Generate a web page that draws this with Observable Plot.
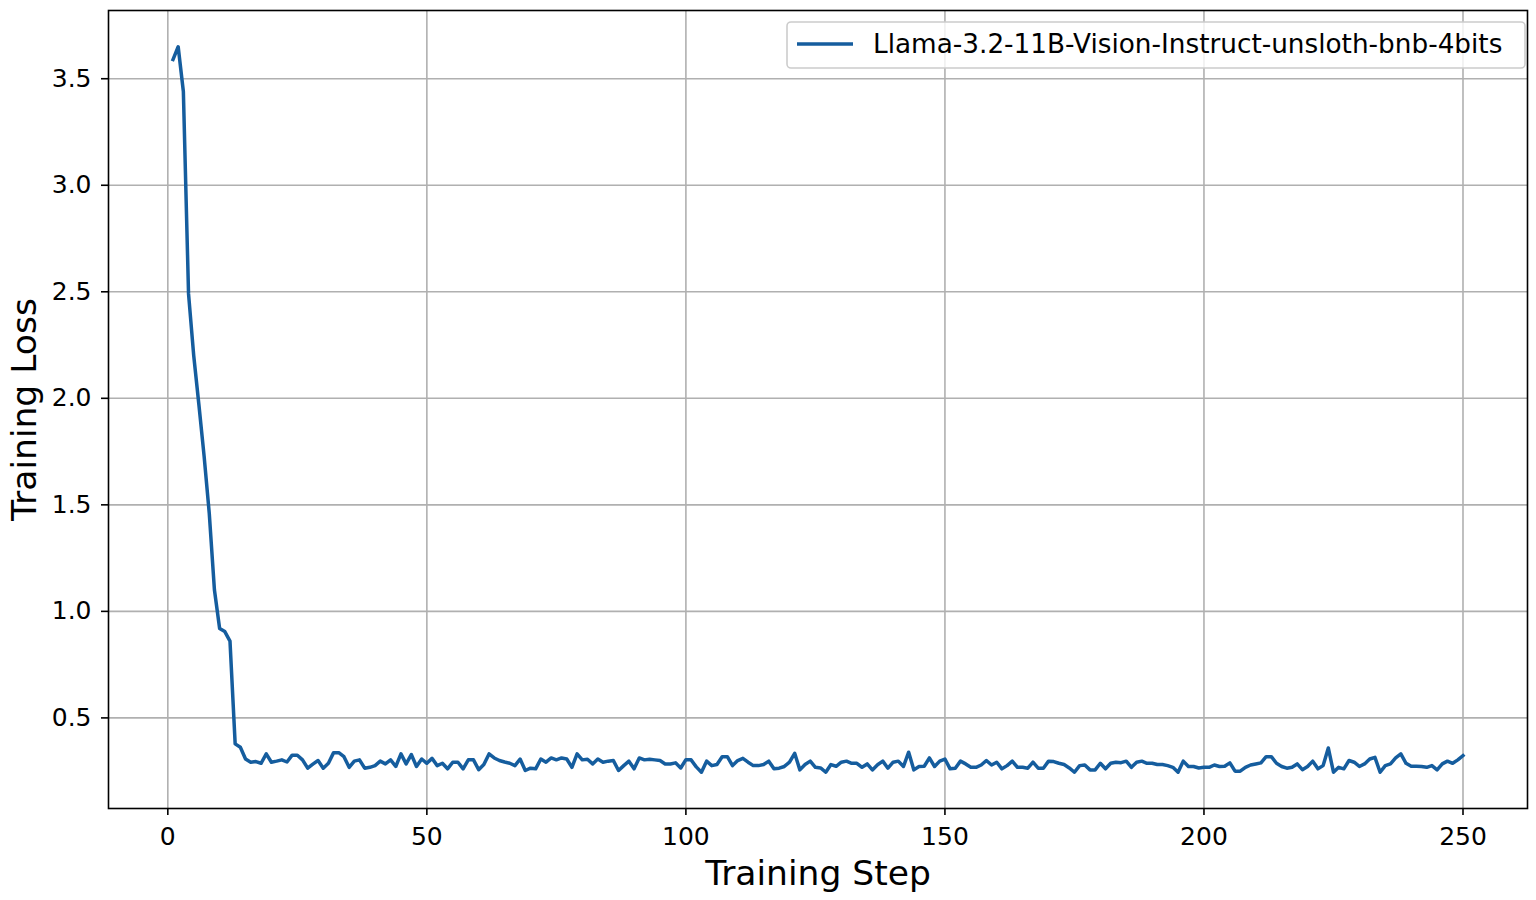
<!DOCTYPE html>
<html>
<head>
<meta charset="utf-8">
<script src="https://cdn.jsdelivr.net/npm/d3@7"></script>
<script src="https://cdn.jsdelivr.net/npm/@observablehq/plot@0.6"></script>
<style>
  html, body { margin: 0; padding: 0; background: #ffffff; }
  svg { display: block; }
</style>
</head>
<body>
<script>
// ---- data ----
const seriesName = "Llama-3.2-11B-Vision-Instruct-unsloth-bnb-4bits";
const xLabel = "Training Step";
const yLabel = "Training Loss";
const xTicks = [0, 50, 100, 150, 200, 250];
const yTicks = [0.5, 1.0, 1.5, 2.0, 2.5, 3.0, 3.5];
const loss = [
  3.59, 3.65, 3.44, 2.49, 2.2, 1.97, 1.73, 1.46, 1.1, 0.92,
  0.905, 0.86, 0.378, 0.362, 0.307, 0.292, 0.295, 0.287, 0.331, 0.292,
  0.297, 0.303, 0.293, 0.325, 0.325, 0.303, 0.264, 0.283, 0.300, 0.264,
  0.287, 0.337, 0.337, 0.318, 0.268, 0.297, 0.303, 0.264, 0.268, 0.276,
  0.297, 0.284, 0.303, 0.272, 0.331, 0.284, 0.328, 0.272, 0.307, 0.287,
  0.310, 0.276, 0.287, 0.261, 0.292, 0.292, 0.261, 0.303, 0.303, 0.257,
  0.281, 0.331, 0.312, 0.300, 0.293, 0.287, 0.276, 0.307, 0.253, 0.264,
  0.261, 0.307, 0.292, 0.312, 0.303, 0.312, 0.307, 0.268, 0.331, 0.303,
  0.306, 0.284, 0.307, 0.292, 0.297, 0.300, 0.253, 0.276, 0.297, 0.261,
  0.312, 0.303, 0.306, 0.303, 0.300, 0.284, 0.284, 0.289, 0.265, 0.304,
  0.303, 0.270, 0.245, 0.297, 0.276, 0.281, 0.318, 0.318, 0.276, 0.300,
  0.310, 0.292, 0.276, 0.276, 0.281, 0.297, 0.261, 0.264, 0.272, 0.292,
  0.334, 0.256, 0.281, 0.297, 0.268, 0.265, 0.245, 0.281, 0.273, 0.292,
  0.297, 0.287, 0.287, 0.268, 0.284, 0.256, 0.280, 0.297, 0.264, 0.292,
  0.297, 0.272, 0.339, 0.256, 0.272, 0.273, 0.312, 0.272, 0.297, 0.307,
  0.261, 0.264, 0.297, 0.284, 0.268, 0.268, 0.279, 0.300, 0.279, 0.292,
  0.261, 0.276, 0.297, 0.268, 0.268, 0.264, 0.292, 0.264, 0.264, 0.297,
  0.295, 0.287, 0.281, 0.265, 0.245, 0.276, 0.279, 0.256, 0.256, 0.287,
  0.261, 0.287, 0.292, 0.290, 0.297, 0.268, 0.292, 0.297, 0.287, 0.287,
  0.281, 0.281, 0.276, 0.268, 0.245, 0.297, 0.272, 0.272, 0.265, 0.268,
  0.268, 0.279, 0.272, 0.273, 0.289, 0.250, 0.250, 0.268, 0.279, 0.284,
  0.289, 0.318, 0.318, 0.287, 0.272, 0.264, 0.268, 0.284, 0.257, 0.272,
  0.297, 0.261, 0.276, 0.359, 0.245, 0.268, 0.261, 0.300, 0.292, 0.272,
  0.284, 0.307, 0.315, 0.245, 0.276, 0.284, 0.312, 0.331, 0.287, 0.273,
  0.273, 0.272, 0.268, 0.276, 0.256, 0.284, 0.297, 0.287, 0.303, 0.323
];
const steps = loss.map((_, i) => i + 1);

// ---- build table ----
const data = steps.map((s, i) => ({step: s, loss: loss[i]}));

// matplotlib-like 5% margins
function padded(ext, f = 0.05) {
  const d = (ext[1] - ext[0]) * f;
  return [ext[0] - d, ext[1] + d];
}
const xDomain = padded(d3.extent(steps));
const yDomain = padded(d3.extent(loss));

const lineColor = "#155d9e";
const gridColor = "#b0b0b0";
const FONT = "DejaVu Sans, Verdana, sans-serif";

const chart = Plot.plot({
  width: 1536,
  height: 900,
  marginLeft: 108,
  marginRight: 9,
  marginTop: 10,
  marginBottom: 92,
  style: {fontFamily: FONT, background: "#ffffff", color: "#000000", overflow: "visible"},
  x: {domain: xDomain},
  y: {domain: yDomain},
  marks: [
    Plot.gridX(xTicks, {stroke: gridColor, strokeOpacity: 1, strokeWidth: 1.6}),
    Plot.gridY(yTicks, {stroke: gridColor, strokeOpacity: 1, strokeWidth: 1.6}),
    Plot.line(data, {x: "step", y: "loss", stroke: lineColor, strokeWidth: 3.5, strokeLinejoin: "round", strokeLinecap: "square"}),
    Plot.frame({stroke: "#000000", strokeWidth: 1.6}),
    Plot.axisX(xTicks, {tickSize: 7, tickPadding: 12, fontSize: 25, strokeWidth: 1.6, label: null, tickFormat: d3.format("d")}),
    Plot.axisY(yTicks, {tickSize: 7, tickPadding: 10, fontSize: 25, strokeWidth: 1.6, label: null, tickFormat: d3.format(".1f")}),
    Plot.text([xLabel], {frameAnchor: "bottom", dy: 65, lineAnchor: "middle", textAnchor: "middle", fontSize: 34.5, fill: "#000000"}),
    Plot.text([yLabel], {frameAnchor: "left", dx: -84, rotate: -90, lineAnchor: "middle", textAnchor: "middle", fontSize: 34.5, fill: "#000000"})
  ]
});

document.body.appendChild(chart);

// ---- legend (upper right, matplotlib style) ----
const svg = d3.select(chart);
const lg = svg.append("g").attr("font-family", FONT).attr("text-anchor", "start");
const boxX = 787, boxY = 22, boxW = 738, boxH = 46;
lg.append("rect")
  .attr("x", boxX).attr("y", boxY).attr("width", boxW).attr("height", boxH)
  .attr("rx", 4).attr("ry", 4)
  .attr("fill", "#ffffff").attr("fill-opacity", 0.8)
  .attr("stroke", "#cccccc").attr("stroke-width", 1.6);
lg.append("line")
  .attr("x1", boxX + 10).attr("x2", boxX + 66)
  .attr("y1", boxY + 22).attr("y2", boxY + 22)
  .attr("stroke", lineColor).attr("stroke-width", 3.5);
lg.append("text")
  .attr("x", boxX + 86).attr("y", boxY + 31)
  .attr("font-size", 26.3).attr("fill", "#000000")
  .attr("text-anchor", "start")
  .text(seriesName);
</script>
</body>
</html>
